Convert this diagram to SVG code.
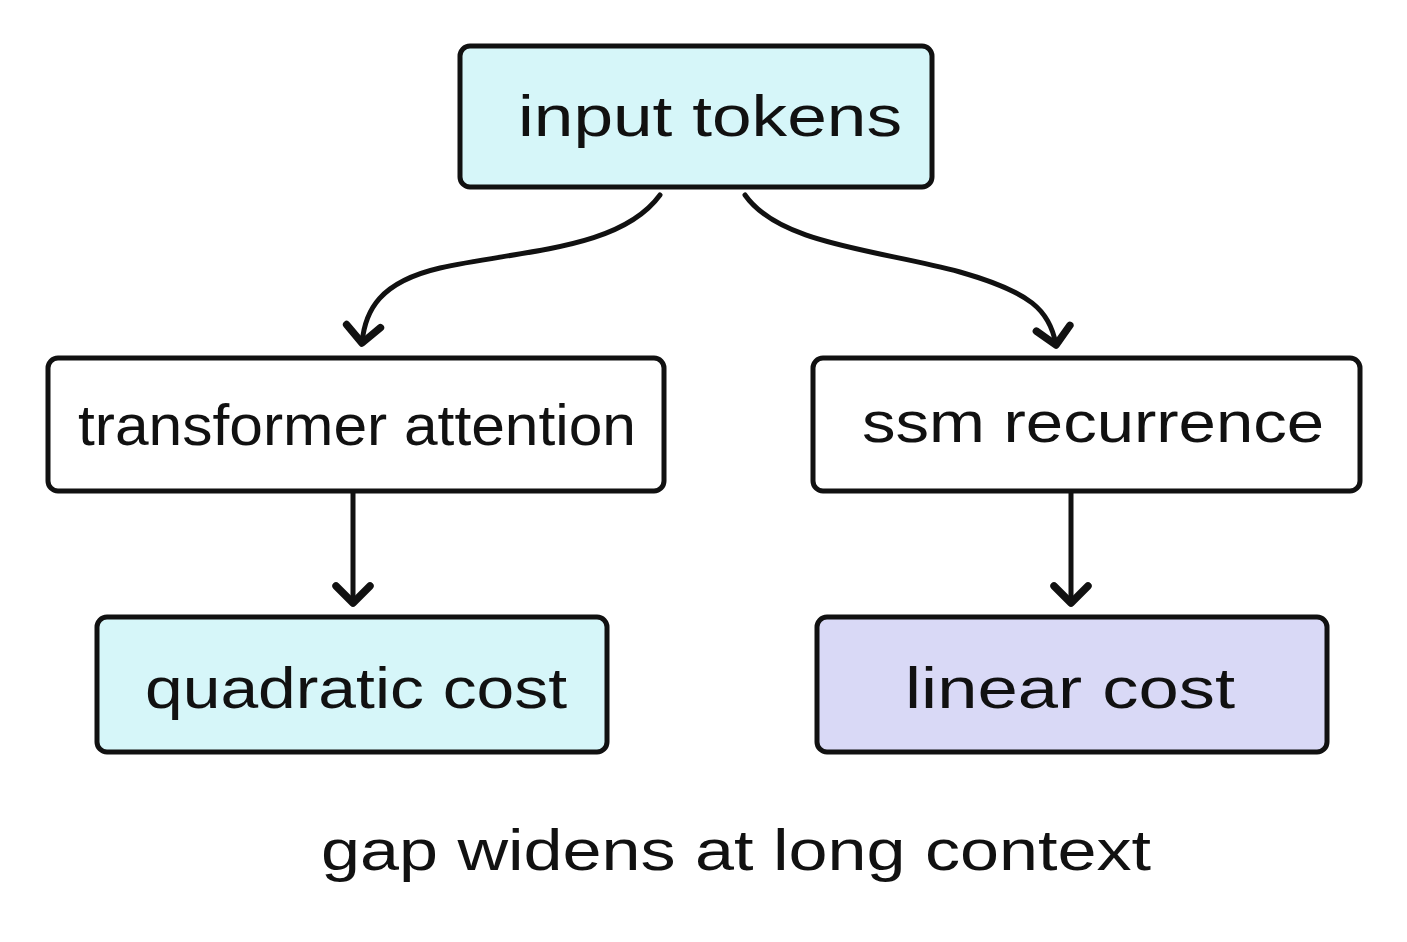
<svg xmlns="http://www.w3.org/2000/svg" width="1407" height="942" viewBox="0 0 1407 942">
<style>
.box{stroke:#111;stroke-width:5;}
.t{font-family:"Liberation Sans",Arial,sans-serif;font-size:58px;fill:#111;text-anchor:middle;}
.c{fill:none;stroke:#111;stroke-width:5;stroke-linecap:round;}
</style>
<defs>
<marker id="ah" viewBox="0 0 20 20" refX="10" refY="10" markerWidth="8.5" markerHeight="8.5" orient="auto" markerUnits="strokeWidth">
<path d="M2,2 L10,10 L2,18" fill="none" stroke="#111" stroke-width="3.5" stroke-linecap="round" stroke-linejoin="round"/>
</marker>
</defs>
<rect width="1407" height="942" fill="#fff"/>
<g id="connectors">
<path class="c" d="M660,195 C620,250 520,250 440,268 C380,282 365,310 362,343" marker-end="url(#ah)"/>
<path class="c" d="M745,195 C780,245 880,250 960,272 C1030,292 1050,310 1056,345" marker-end="url(#ah)"/>
<path class="c" d="M353,493 L353,603" marker-end="url(#ah)"/>
<path class="c" d="M1071,493 L1071,603" marker-end="url(#ah)"/>
</g>
<g id="input"><rect class="box" x="460" y="46" width="472" height="141" rx="10" fill="#d6f6f9"/><text class="t" x="710" y="136" textLength="384" lengthAdjust="spacingAndGlyphs">input tokens</text></g>
<g id="transformer"><rect class="box" x="48" y="358" width="616" height="133" rx="10" fill="#fff"/><text class="t" x="357" y="445" textLength="558" lengthAdjust="spacingAndGlyphs">transformer attention</text></g>
<g id="ssm"><rect class="box" x="813" y="358" width="547" height="133" rx="10" fill="#fff"/><text class="t" x="1093" y="442" textLength="462" lengthAdjust="spacingAndGlyphs">ssm recurrence</text></g>
<g id="quadratic"><rect class="box" x="97" y="617" width="510" height="135" rx="10" fill="#d6f6f9"/><text class="t" x="356" y="708" textLength="422" lengthAdjust="spacingAndGlyphs">quadratic cost</text></g>
<g id="linear"><rect class="box" x="817" y="617" width="510" height="135" rx="10" fill="#d9d9f6"/><text class="t" x="1070" y="708" textLength="330" lengthAdjust="spacingAndGlyphs">linear cost</text></g>
<g id="caption"><text class="t" x="736" y="870" textLength="830" lengthAdjust="spacingAndGlyphs">gap widens at long context</text></g>
</svg>
